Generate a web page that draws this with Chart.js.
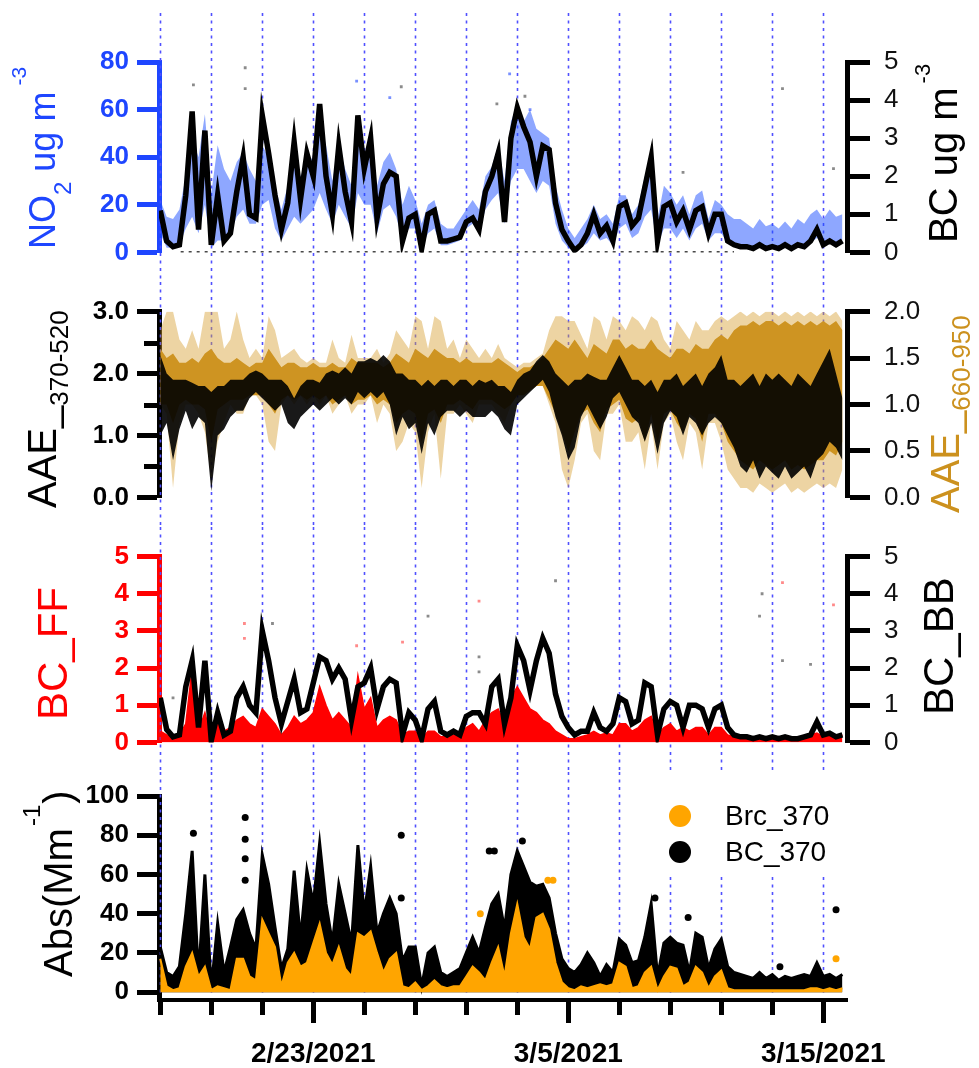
<!DOCTYPE html>
<html>
<head>
<meta charset="utf-8">
<title>NO2, BC, AAE and absorption time series</title>
<script src="https://cdn.jsdelivr.net/npm/chart.js@4.4.1/dist/chart.umd.min.js"></script>
<style>
  html, body { margin: 0; padding: 0; background: #fff; }
  #wrap { position: relative; width: 979px; height: 1068px; overflow: hidden; }
  #wrap canvas { position: absolute; left: 0; }
</style>
</head>
<body>
<div id="wrap">
  <canvas id="panelNO2" width="979" height="282" style="top:0px"></canvas>
  <canvas id="panelAAE" width="979" height="245" style="top:282px"></canvas>
  <canvas id="panelSrc" width="979" height="245" style="top:527px"></canvas>
  <canvas id="panelAbs" width="979" height="296" style="top:772px"></canvas>
</div>
<script>
// Time axis: days since 2/17/2021 00:00, one value every 6 hours
const START_DAY = 0;
const STEP_DAYS = 0.25;
const X_MIN = -0.05;
const X_MAX = 26.93;

const gridDays = [0, 2, 4, 6, 8, 10, 12, 14, 16, 18, 20, 22, 24, 26];
const dateTickDays = [6, 16, 26];
const dateTickLabels = ['2/23/2021', '3/5/2021', '3/15/2021'];

// Panel 1: BC (ug m-3, right axis) and NO2 spread (ug m-3, left axis)
const bcMass = [
  1.1, 0.3, 0.15, 0.2,   1.5, 3.7, 0.6, 3.2,   0.2, 1.5, 0.3, 0.5,   1.6, 2.5, 1.0, 0.9,
  3.6, 2.6, 1.5, 0.6,    1.3, 2.9, 1.4, 2.6,   2.0, 3.9, 2.0, 1.0,   2.8, 1.6, 0.8, 3.6,
  2.2, 3.0, 0.9, 1.8,    2.1, 2.0, 0.3, 0.9,   1.0, 0.1, 1.0, 1.1,   0.3, 0.3, 0.35, 0.4,
  0.8, 0.9, 0.6, 1.6,    2.0, 2.6, 0.8, 3.0,   3.8, 3.3, 2.9, 2.0,   2.8, 2.7, 1.3, 0.6,
  0.3, 0.05, 0.2, 0.5,   1.0, 0.5, 0.7, 0.3,   1.2, 1.3, 0.7, 0.9,   1.7, 2.5, 0.3, 1.2,
  1.3, 0.8, 1.1, 0.6,    1.1, 1.2, 0.5, 1.0,   1.0, 0.3, 0.2, 0.15,  0.15, 0.1, 0.2, 0.1,
  0.15, 0.1, 0.2, 0.1,   0.2, 0.15, 0.3, 0.6,  0.2, 0.3, 0.2, 0.3
];
const no2Lo = [
  8, 2, 2, 3,      10, 15, 8, 20,   2, 5, 5, 8,      15, 18, 12, 12,
  20, 22, 10, 5,   10, 15, 12, 15,  18, 25, 18, 12,  20, 15, 10, 25,
  20, 20, 8, 18,   20, 15, 5, 10,   10, 2, 8, 10,    3, 3, 4, 5,
  10, 12, 8, 18,   22, 25, 12, 30,  35, 35, 30, 25,  30, 28, 12, 5,
  2, 0, 2, 4,      8, 5, 6, 3,      10, 12, 6, 8,    15, 18, 3, 10,
  10, 6, 10, 5,    10, 12, 5, 8,    8, 4, 3, 2,      2, 2, 3, 2,
  3, 2, 3, 2,      3, 3, 4, 6,      4, 5, 4, 5
];
const no2Hi = [
  22, 15, 14, 18,  32, 48, 40, 58,  25, 45, 35, 30,  38, 42, 35, 30,
  45, 40, 28, 18,  28, 40, 32, 38,  40, 55, 45, 30,  45, 35, 28, 55,
  40, 45, 28, 38,  42, 35, 20, 28,  22, 12, 20, 22,  12, 10, 10, 14,
  18, 22, 18, 32,  36, 45, 30, 55,  62, 55, 60, 52,  50, 48, 28, 18,
  10, 6, 10, 14,   20, 14, 16, 12,  24, 24, 16, 20,  32, 40, 14, 28,
  25, 20, 24, 16,  24, 26, 14, 22,  20, 16, 14, 14,  12, 10, 14, 11,
  12, 10, 13, 10,  14, 12, 16, 18,  14, 18, 15, 16
];
const zeroRunDays = [0.8, 22.5];
const zeroRunVals = [0, 0];
const bcOutDays = [1.3, 3.33, 3.33, 9.45, 13.2, 14.3, 20.5, 24.4, 26.4];
const bcOutVals = [4.4, 4.85, 4.3, 4.35, 3.9, 4.1, 2.1, 4.3, 2.2];
const no2OutDays = [7.7, 9.0, 13.7, 14.5];
const no2OutVals = [72, 65, 75, 60];

// Panel 2: AAE 370-520 spread (left axis) and AAE 660-950 spread (right axis)
const aaeUVLo = [
  1.0, 1.2, 0.6, 1.1,  1.4, 1.1, 1.3, 1.2,  0.1, 1.0, 1.1, 1.3,  1.4, 1.4, 1.6, 1.7,
  1.6, 1.5, 1.4, 1.5,  1.2, 1.1, 1.3, 1.4,  1.5, 1.4, 1.5, 1.6,  1.5, 1.6, 1.5, 1.7,
  1.6, 1.7, 1.6, 1.7,  1.5, 1.0, 1.3, 1.1,  1.2, 0.7, 1.2, 1.0,  1.3, 1.4, 1.4, 1.3,
  1.4, 1.3, 1.3, 1.3,  1.4, 1.3, 1.1, 1.0,  1.5, 1.6, 1.7, 1.8,  1.9, 1.7, 1.3, 1.0,
  0.6, 0.8, 1.3, 1.5,  1.3, 1.1, 1.3, 1.6,  1.7, 1.5, 1.3, 1.2,  0.9, 1.2, 0.7, 1.2,
  1.4, 1.3, 1.0, 1.3,  1.2, 1.0, 1.2, 1.3,  1.2, 1.0, 0.8, 0.5,  0.4, 0.6, 0.3, 0.5,
  0.4, 0.3, 0.5, 0.3,  0.4, 0.5, 0.3, 0.6,  0.7, 0.9, 0.8, 0.6
];
const aaeUVHi = [
  2.3, 2.0, 1.9, 1.9,   1.9, 1.85, 1.8, 1.8,  1.7, 1.8, 1.8, 1.9,   1.9, 1.9, 2.0, 2.05,
  2.0, 1.9, 1.9, 1.9,   1.8, 1.6, 1.8, 1.9,   1.9, 1.85, 2.0, 2.05, 2.0, 2.1, 2.0, 2.2,
  2.2, 2.25, 2.2, 2.3,  2.2, 2.0, 2.0, 1.9,   1.9, 1.8, 1.9, 1.8,   1.9, 1.9, 1.8, 1.9,
  1.9, 1.8, 1.9, 1.85,  1.9, 1.8, 1.8, 1.7,   1.9, 2.0, 2.05, 2.2,  2.3, 2.2, 2.0, 1.9,
  1.8, 1.9, 1.9, 2.0,   1.95, 1.9, 1.9, 2.1,  2.3, 2.1, 1.9, 1.9,   1.8, 1.9, 1.7, 1.9,
  1.9, 2.0, 1.8, 1.9,   2.0, 1.8, 2.0, 2.1,   2.3, 1.9, 1.9, 1.8,   1.9, 2.0, 1.8, 2.0,
  1.9, 2.0, 1.9, 1.8,   2.0, 1.9, 1.8, 2.0,   2.2, 2.4, 2.0, 1.6
];
// sparse gold points (full spread) and the dense gold core
const aaeIRLo = [
  1.0, 0.9, 0.1, 0.8,   1.0, 1.0, 0.9, 0.7,   0.2, 0.6, 0.8, 1.0,   0.9, 0.9, 1.1, 1.1,
  1.0, 0.6, 0.5, 1.0,   1.1, 1.0, 1.1, 1.0,   1.1, 1.0, 1.1, 0.9,   1.0, 1.1, 0.9, 1.0,
  1.0, 1.1, 0.8, 1.0,   0.9, 0.5, 0.6, 0.8,   0.7, 0.1, 0.7, 0.9,   0.2, 0.9, 0.9, 1.0,
  0.9, 0.8, 1.0, 1.0,   1.0, 0.9, 0.8, 1.0,   1.1, 1.1, 1.2, 1.2,   1.2, 1.0, 0.8, 0.3,
  0.1, 0.4, 0.8, 0.9,   0.5, 0.4, 0.9, 0.9,   1.0, 0.6, 0.6, 0.7,   0.3, 0.8, 0.3, 0.8,
  0.9, 0.6, 0.4, 0.8,   0.7, 0.3, 0.8, 0.8,   0.6, 0.3, 0.2, 0.1,   0.1, 0.05, 0.15, 0.1,
  0.05, 0.1, 0.15, 0.05, 0.1, 0.05, 0.1, 0.15, 0.1, 0.15, 0.1, 0.3
];
const aaeIRHi = [
  1.8, 2.0, 2.0, 1.7,    1.6, 1.8, 1.6, 2.0,    2.0, 2.0, 1.6, 1.7,   2.0, 1.7, 1.5, 1.6,
  1.5, 1.95, 1.8, 1.5,   1.55, 1.6, 1.5, 1.45,  1.5, 1.45, 1.45, 1.7, 1.5, 1.45, 1.75, 1.5,
  1.5, 1.5, 1.6, 1.45,   1.55, 1.8, 1.7, 1.6,   1.95, 1.9, 1.6, 1.95, 1.9, 1.6, 1.7, 1.5,
  1.7, 1.6, 1.5, 1.6,    1.5, 1.65, 1.5, 1.45,  1.4, 1.45, 1.45, 1.5, 1.55, 1.8, 1.95, 1.95,
  1.9, 1.9, 1.75, 1.6,   1.95, 1.9, 1.7, 1.95,  1.9, 1.8, 1.95, 1.9,  1.8, 1.95, 1.9, 1.7,
  1.6, 1.9, 1.8, 1.7,    1.9, 1.8, 1.8, 1.9,    1.95, 1.9, 1.95, 2.0, 1.95, 2.0, 1.95, 2.0,
  2.0, 1.95, 2.0, 1.95,  2.0, 1.95, 2.0, 1.95,  2.0, 1.95, 2.0, 1.9
];
const aaeIRCoreLo = [
  1.0, 1.0, 0.8, 1.0,    1.05, 1.0, 1.0, 0.95,  0.6, 0.95, 1.0, 1.05,  1.05, 1.05, 1.1, 1.1,
  1.1, 1.0, 0.9, 1.05,   1.1, 1.05, 1.1, 1.05,  1.1, 1.05, 1.1, 1.0,   1.05, 1.1, 1.0, 1.05,
  1.05, 1.1, 1.0, 1.05,  1.0, 0.8, 0.9, 0.95,   0.9, 0.6, 0.9, 0.95,   0.8, 1.0, 1.0, 1.05,
  1.0, 0.95, 1.05, 1.05, 1.05, 1.0, 0.95, 1.0,  1.1, 1.1, 1.15, 1.2,   1.2, 1.05, 0.9, 0.7,
  0.5, 0.7, 0.9, 0.95,   0.8, 0.7, 0.95, 1.0,   1.05, 0.85, 0.8, 0.85, 0.6, 0.9, 0.6, 0.9,
  0.95, 0.8, 0.7, 0.9,   0.85, 0.6, 0.9, 0.9,   0.8, 0.6, 0.5, 0.4,    0.35, 0.3, 0.4, 0.35,
  0.3, 0.35, 0.4, 0.3,   0.35, 0.3, 0.35, 0.4,  0.4, 0.5, 0.45, 0.6
];
const aaeIRCoreHi = [
  1.6, 1.5, 1.55, 1.45,  1.45, 1.5, 1.45, 1.55, 1.6, 1.5, 1.45, 1.45,  1.5, 1.45, 1.4, 1.45,
  1.45, 1.6, 1.5, 1.4,   1.45, 1.45, 1.4, 1.4,  1.45, 1.4, 1.4, 1.45,  1.4, 1.4, 1.5, 1.45,
  1.45, 1.45, 1.45, 1.4, 1.45, 1.55, 1.5, 1.45, 1.6, 1.55, 1.5, 1.6,   1.55, 1.5, 1.5, 1.45,
  1.5, 1.45, 1.45, 1.45, 1.45, 1.5, 1.45, 1.4,  1.35, 1.4, 1.4, 1.45,  1.5, 1.6, 1.7, 1.65,
  1.6, 1.7, 1.6, 1.5,    1.65, 1.6, 1.55, 1.7,  1.7, 1.6, 1.65, 1.6,   1.6, 1.7, 1.6, 1.55,
  1.5, 1.6, 1.6, 1.55,   1.65, 1.6, 1.6, 1.7,   1.75, 1.7, 1.8, 1.85,  1.85, 1.9, 1.85, 1.9,
  1.9, 1.85, 1.9, 1.85,  1.9, 1.85, 1.9, 1.85,  1.9, 1.85, 1.9, 1.8
];

// Panel 3: BC_FF (left axis) and BC_BB (right axis)
const bcFF = [
  0.3, 0.2, 0.15, 0.2,   0.5, 2.0, 0.3, 0.8,   0.1, 0.9, 0.3, 0.4,    0.6, 0.7, 0.5, 0.4,
  0.9, 0.7, 0.5, 0.2,    0.4, 0.7, 0.5, 0.6,   0.8, 1.5, 1.0, 0.6,    0.8, 0.6, 0.4, 1.8,
  0.9, 1.2, 0.4, 0.6,    0.7, 0.6, 0.2, 0.3,   0.3, 0.1, 0.3, 0.3,    0.15, 0.15, 0.2, 0.2,
  0.4, 0.5, 0.3, 0.6,    0.8, 0.9, 0.5, 1.2,   1.5, 1.2, 0.9, 0.8,    0.6, 0.5, 0.3, 0.2,
  0.1, 0.1, 0.15, 0.2,   0.3, 0.2, 0.25, 0.2,  0.5, 0.5, 0.3, 0.4,    0.6, 0.7, 0.2, 0.4,
  0.5, 0.3, 0.4, 0.3,    0.4, 0.4, 0.2, 0.4,   0.4, 0.2, 0.15, 0.15,  0.12, 0.1, 0.15, 0.1,
  0.15, 0.1, 0.12, 0.1,  0.12, 0.15, 0.2, 0.25, 0.15, 0.2, 0.15, 0.2
];
const bcBB = [
  1.2, 0.35, 0.15, 0.2,  1.5, 2.2, 0.4, 2.2,   0.05, 0.8, 0.2, 0.3,  1.2, 1.5, 1.0, 0.8,
  3.0, 2.2, 1.2, 0.5,    1.1, 1.7, 0.8, 0.9,   1.6, 2.3, 2.2, 1.7,   2.0, 1.7, 0.6, 1.5,
  1.6, 2.0, 0.9, 1.5,    1.7, 1.6, 0.2, 0.8,   0.6, 0.1, 0.9, 1.1,   0.3, 0.2, 0.3, 0.2,
  0.7, 0.8, 0.8, 0.5,    1.5, 1.7, 0.5, 1.2,   2.6, 2.2, 1.4, 2.2,   2.8, 2.4, 1.3, 0.7,
  0.4, 0.2, 0.3, 0.3,    0.8, 0.4, 0.3, 0.5,   1.2, 1.1, 0.5, 0.6,   1.6, 1.5, 0.2, 0.9,
  1.1, 1.0, 0.4, 1.0,    1.0, 0.9, 0.4, 0.9,   1.0, 0.4, 0.2, 0.15,  0.15, 0.1, 0.15, 0.1,
  0.15, 0.1, 0.15, 0.1,  0.1, 0.15, 0.2, 0.55, 0.2, 0.25, 0.15, 0.2
];
const bbOutDays = [0.5, 4.4, 10.5, 12.5, 12.5, 15.5, 23.5, 23.6, 24.4, 25.5];
const bbOutVals = [1.2, 3.2, 3.4, 2.3, 1.9, 4.35, 3.4, 4.0, 2.2, 2.1];
const ffOutDays = [3.3, 3.3, 7.7, 9.5, 12.5, 24.4, 26.4];
const ffOutVals = [3.2, 2.8, 2.6, 2.7, 3.8, 4.3, 3.7];

// Panel 4: absorption at 370 nm (Mm-1)
const legendLabels = ['Brc_370', 'BC_370'];
const bc370 = [
  23, 10, 8, 13,   40, 72, 8, 60,   2, 35, 10, 23,   37, 42, 30, 22,
  70, 55, 33, 12,  22, 62, 27, 62,  45, 76, 45, 25,  55, 40, 25, 75,
  40, 64, 30, 40,  48, 40, 16, 23,  23, 3, 20, 23,   10, 8, 10, 12,
  20, 28, 20, 33,  45, 50, 32, 60,  72, 64, 56, 54,  55, 48, 30, 17,
  12, 10, 14, 20,  15, 8, 14, 10,   27, 24, 15, 16,  28, 45, 8, 25,
  28, 25, 24, 10,  30, 28, 12, 22,  27, 13, 10, 9,   8, 7, 10, 7,
  9, 6, 8, 7,      8, 9, 8, 15,     8, 9, 7, 9
];
const brc370 = [
  17, 3, 1, 2,     13, 20, 8, 13,   1, 3, 2, 1,      17, 17, 8, 6,
  37, 30, 23, 3,   15, 20, 13, 15,  25, 35, 20, 14,  23, 12, 8, 30,
  28, 31, 20, 10,  17, 20, 3, 2,    5, 1, 3, 6,      3, 2, 3, 3,
  8, 13, 10, 6,    15, 23, 8, 30,   45, 28, 22, 38,  40, 32, 15, 5,
  2, 1, 3, 2,      3, 4, 3, 4,      15, 13, 2, 3,    10, 13, 1, 8,
  13, 12, 3, 5,    13, 10, 2, 8,    11, 2, 1, 1,     1, 1, 1, 1,
  1, 1, 1, 1,      1, 1, 2, 2,      1, 2, 1, 2
];
const bc370OutDays = [1.3, 3.33, 3.33, 3.33, 3.33, 9.45, 9.45, 12.9, 13.1, 14.2, 19.4, 20.7, 24.3, 26.5];
const bc370OutVals = [81, 89, 78, 68, 57, 80, 48, 72, 72, 77, 48, 38, 13, 42];
const brcOutDays = [12.55, 15.2, 15.4, 26.5];
const brcOutVals = [40, 57, 57, 17];
const absTicks = [0, 20, 40, 60, 80, 100];

const BLUE = 'rgb(30,70,255)';
const RED = 'rgb(255,0,0)';
const GOLD = 'rgb(204,145,30)';
const ORANGE = 'rgb(255,165,0)';
const FONT = '"Liberation Sans", Arial, Helvetica, sans-serif';
const AXIS_LEFT_W = 159;
const AXIS_RIGHT_W = 132;

Chart.defaults.font.family = FONT;
Chart.defaults.color = '#000';

function series(vals) {
  return vals.map((v, i) => ({ x: START_DAY + i * STEP_DAYS, y: v }));
}
function points(days, vals) {
  return days.map((d, i) => ({ x: d, y: vals[i] }));
}

// rotated axis title with sub/superscript pieces
function drawTitle(ctx, t) {
  ctx.save();
  ctx.translate(t.x, t.y);
  ctx.rotate(-Math.PI / 2);
  ctx.fillStyle = t.color;
  ctx.textAlign = 'left';
  ctx.textBaseline = 'alphabetic';
  let cx = 0;
  t.parts.forEach(p => {
    ctx.font = p.size + 'px ' + FONT;
    cx += p.dx || 0;
    ctx.fillText(p.text, cx, p.dy || 0);
    cx += ctx.measureText(p.text).width;
  });
  ctx.restore();
}

const panelDecor = {
  id: 'panelDecor',
  beforeDatasetsDraw(chart, args, o) {
    const ctx = chart.ctx;
    const xs = chart.scales.x;
    const area = chart.chartArea;
    const yEnd = o.gridToAxis ? area.bottom - 7 : chart.height;
    ctx.save();
    ctx.strokeStyle = 'rgb(80,80,255)';
    ctx.lineWidth = 1.6;
    ctx.setLineDash([3, 4.5]);
    gridDays.forEach(d => {
      const px = Math.round(xs.getPixelForValue(d)) + 0.5;
      ctx.beginPath();
      ctx.moveTo(px, o.gridTop);
      ctx.lineTo(px, yEnd);
      ctx.stroke();
    });
    ctx.restore();
    if (o.legend) {
      ctx.save();
      ctx.fillStyle = '#fff';
      ctx.fillRect(o.legend.boxLeft, 0, area.right - o.legend.boxLeft + 3, o.legend.boxBottom);
      ctx.restore();
    }
  },
  afterDraw(chart, args, o) {
    const ctx = chart.ctx;
    const area = chart.chartArea;
    (o.minorTicks || []).forEach(m => {
      const s = chart.scales[m.axis];
      ctx.save();
      ctx.strokeStyle = m.color;
      ctx.lineWidth = 5;
      m.values.forEach(v => {
        const py = Math.round(s.getPixelForValue(v)) + 0.5;
        ctx.beginPath();
        ctx.moveTo(area.left - m.length, py);
        ctx.lineTo(area.left, py);
        ctx.stroke();
      });
      ctx.restore();
    });
    if (o.majorX) {
      const xs = chart.scales.x;
      ctx.save();
      ctx.strokeStyle = '#000';
      ctx.lineWidth = 5;
      dateTickDays.forEach(d => {
        const px = Math.round(xs.getPixelForValue(d)) + 0.5;
        ctx.beginPath();
        ctx.moveTo(px, area.bottom + 12);
        ctx.lineTo(px, area.bottom + o.majorX);
        ctx.stroke();
      });
      ctx.restore();
    }
    if (o.legend) {
      const L = o.legend;
      ctx.save();
      legendLabels.forEach((lab, i) => {
        const cy = L.top + i * L.rowGap;
        ctx.beginPath();
        ctx.fillStyle = L.colors[i];
        ctx.arc(L.markerX, cy, L.radius, 0, Math.PI * 2);
        ctx.fill();
        ctx.fillStyle = '#000';
        ctx.font = L.fontSize + 'px ' + FONT;
        ctx.textAlign = 'left';
        ctx.textBaseline = 'middle';
        ctx.fillText(lab, L.textX, cy + 1);
      });
      ctx.restore();
    }
    (o.titles || []).forEach(t => drawTitle(ctx, t));
  }
};

function hiddenX() {
  return { type: 'linear', min: X_MIN, max: X_MAX, display: false };
}

function yAxis(side, min, max, step, color, labelColor, fmt) {
  const left = side === 'left';
  return {
    type: 'linear',
    position: side,
    min: min,
    max: max,
    ticks: {
      stepSize: step,
      color: labelColor,
      padding: left ? 8 : 14,
      font: { size: left ? 26 : 26, weight: left ? 'bold' : 'normal' },
      callback: fmt || (v => String(v))
    },
    grid: { drawOnChartArea: false, drawTicks: true, tickLength: left ? 22 : 23, tickWidth: 5, tickColor: color },
    border: { display: true, width: 5, color: color },
    afterFit: s => { s.width = left ? AXIS_LEFT_W : AXIS_RIGHT_W; }
  };
}

function baseOptions(padding, scales, decor) {
  return {
    responsive: false,
    animation: false,
    devicePixelRatio: 1,
    events: [],
    layout: { padding: padding },
    elements: { line: { tension: 0 }, point: { radius: 0 } },
    plugins: { legend: { display: false }, tooltip: { enabled: false }, panelDecor: decor },
    scales: scales
  };
}

const fixed1 = v => Number(v).toFixed(1);

// Panel 1
new Chart(document.getElementById('panelNO2'), {
  type: 'line',
  data: {
    datasets: [
      { label: 'BC spikes', data: points(bcOutDays, bcOutVals), yAxisID: 'yR', showLine: false,
        pointRadius: 2, pointStyle: 'rect', pointBackgroundColor: 'rgba(90,90,90,0.7)', pointBorderWidth: 0, order: 0 },
      { label: 'NO2 spikes', data: points(no2OutDays, no2OutVals), yAxisID: 'yL', showLine: false,
        pointRadius: 2, pointStyle: 'rect', pointBackgroundColor: 'rgba(30,70,255,0.6)', pointBorderWidth: 0, order: 0 },
      { label: 'BC', data: series(bcMass), yAxisID: 'yR', borderColor: '#000', borderWidth: 5.5, fill: false, order: 1 },
      { label: 'BC zero', data: points(zeroRunDays, zeroRunVals), yAxisID: 'yR', borderColor: 'rgba(40,40,40,0.85)',
        borderWidth: 3, borderDash: [3, 5], fill: false, order: 2 },
      { label: 'NO2 low', data: series(no2Lo), yAxisID: 'yL', borderWidth: 0, borderColor: 'transparent', fill: false, order: 3 },
      { label: 'NO2', data: series(no2Hi), yAxisID: 'yL', borderWidth: 0, borderColor: 'transparent',
        fill: '-1', backgroundColor: 'rgba(30,80,255,0.5)', order: 3 }
    ]
  },
  options: baseOptions({ top: 62, bottom: 25, left: 0, right: 0 }, {
    x: hiddenX(),
    yL: yAxis('left', 0, 80, 20, BLUE, BLUE),
    yR: yAxis('right', 0, 5, 1, '#000', '#111')
  }, {
    gridTop: 13,
    titles: [
      { x: 55, y: 249, color: BLUE, parts: [
        { text: 'NO', size: 36 }, { text: '2', size: 24, dy: 16 }, { text: ' ug m', size: 36 },
        { text: '-3', size: 21, dy: -29, dx: 6 } ] },
      { x: 957, y: 243, color: '#000', parts: [
        { text: 'BC ug m', size: 40 }, { text: '-3', size: 22, dy: -27, dx: 4 } ] }
    ]
  }),
  plugins: [panelDecor]
});

// Panel 2
new Chart(document.getElementById('panelAAE'), {
  type: 'line',
  data: {
    datasets: [
      { label: 'AAE 660-950 low', data: series(aaeIRLo), yAxisID: 'yR', borderWidth: 0, borderColor: 'transparent', fill: false, order: 5 },
      { label: 'AAE 660-950 spread', data: series(aaeIRHi), yAxisID: 'yR', borderWidth: 0, borderColor: 'transparent',
        fill: '-1', backgroundColor: 'rgba(214,160,50,0.45)', order: 5 },
      { label: 'AAE 660-950 core low', data: series(aaeIRCoreLo), yAxisID: 'yR', borderWidth: 0, borderColor: 'transparent', fill: false, order: 4 },
      { label: 'AAE 660-950', data: series(aaeIRCoreHi), yAxisID: 'yR', borderWidth: 0, borderColor: 'transparent',
        fill: '-1', backgroundColor: 'rgb(206,148,34)', order: 4 },
      { label: 'AAE 370-520 low', data: series(aaeUVLo), yAxisID: 'yL', borderWidth: 0, borderColor: 'transparent', fill: false, order: 2 },
      { label: 'AAE 370-520', data: series(aaeUVHi), yAxisID: 'yL', borderWidth: 0, borderColor: 'transparent',
        fill: '-1', backgroundColor: 'rgba(0,0,0,0.9)', order: 2 }
    ]
  },
  options: baseOptions({ top: 25, bottom: 25, left: 0, right: 0 }, {
    x: hiddenX(),
    yL: yAxis('left', 0, 3, 1, '#000', '#000', fixed1),
    yR: yAxis('right', 0, 2, 0.5, '#000', '#111', fixed1)
  }, {
    gridTop: 0,
    minorTicks: [{ axis: 'yL', values: [0.5, 1.5, 2.5], length: 15, color: '#000' }],
    titles: [
      { x: 56, y: 226, color: '#000', parts: [
        { text: 'AAE_', size: 40 }, { text: '370-520', size: 26, dy: 12 } ] },
      { x: 959, y: 231, color: GOLD, parts: [
        { text: 'AAE_', size: 40 }, { text: '660-950', size: 26, dy: 11 } ] }
    ]
  }),
  plugins: [panelDecor]
});

// Panel 3
new Chart(document.getElementById('panelSrc'), {
  type: 'line',
  data: {
    datasets: [
      { label: 'BC_BB spikes', data: points(bbOutDays, bbOutVals), yAxisID: 'yR', showLine: false,
        pointRadius: 2, pointStyle: 'rect', pointBackgroundColor: 'rgba(90,90,90,0.7)', pointBorderWidth: 0, order: 0 },
      { label: 'BC_FF spikes', data: points(ffOutDays, ffOutVals), yAxisID: 'yL', showLine: false,
        pointRadius: 2, pointStyle: 'rect', pointBackgroundColor: 'rgba(255,60,60,0.6)', pointBorderWidth: 0, order: 0 },
      { label: 'BC_BB', data: series(bcBB), yAxisID: 'yR', borderColor: '#000', borderWidth: 5.5, fill: false, order: 1 },
      { label: 'BC_FF', data: series(bcFF), yAxisID: 'yL', borderColor: RED, borderWidth: 1.5,
        fill: 'origin', backgroundColor: RED, order: 3 }
    ]
  },
  options: baseOptions({ top: 24, bottom: 24, left: 0, right: 0 }, {
    x: hiddenX(),
    yL: yAxis('left', 0, 5, 1, RED, RED),
    yR: yAxis('right', 0, 5, 1, '#000', '#111')
  }, {
    gridTop: 0,
    titles: [
      { x: 67, y: 193, color: RED, parts: [{ text: 'BC_FF', size: 42 }] },
      { x: 953, y: 188, color: '#000', parts: [{ text: 'BC_BB', size: 42 }] }
    ]
  }),
  plugins: [panelDecor]
});

// Panel 4
new Chart(document.getElementById('panelAbs'), {
  type: 'line',
  data: {
    datasets: [
      { label: 'BC_370 spikes', data: points(bc370OutDays, bc370OutVals), yAxisID: 'yL', showLine: false,
        pointRadius: 3.5, pointBackgroundColor: '#000', pointBorderWidth: 0, order: 0 },
      { label: 'Brc_370 spikes', data: points(brcOutDays, brcOutVals), yAxisID: 'yL', showLine: false,
        pointRadius: 3.5, pointBackgroundColor: ORANGE, pointBorderWidth: 0, order: 0 },
      { label: legendLabels[0], data: series(brc370), yAxisID: 'yL', borderColor: ORANGE, borderWidth: 2,
        fill: 'origin', backgroundColor: ORANGE, order: 2 },
      { label: legendLabels[1], data: series(bc370), yAxisID: 'yL', borderColor: '#000', borderWidth: 3,
        fill: 'origin', backgroundColor: '#000', order: 3 }
    ]
  },
  options: baseOptions({ top: 24, bottom: 0, left: 0, right: AXIS_RIGHT_W }, {
    x: {
      type: 'linear',
      position: 'bottom',
      min: X_MIN,
      max: X_MAX,
      afterBuildTicks: s => { s.ticks = gridDays.map(v => ({ value: v })); },
      ticks: {
        autoSkip: false,
        maxRotation: 0,
        padding: 22,
        color: '#000',
        font: { size: 28, weight: 'bold' },
        callback: v => {
          const k = dateTickDays.indexOf(v);
          return k >= 0 ? dateTickLabels[k] : '';
        }
      },
      grid: { drawOnChartArea: false, drawTicks: true, tickLength: 15, tickWidth: 5, tickColor: '#000' },
      border: { display: true, width: 4, color: '#000' },
      afterFit: s => { s.height = 68; }
    },
    yL: Object.assign(yAxis('left', -4, 100, 20, '#000', '#000'), {
      afterBuildTicks: s => { s.ticks = absTicks.map(v => ({ value: v })); }
    })
  }, {
    gridTop: 0,
    gridToAxis: true,
    majorX: 23,
    legend: { boxLeft: 652, boxBottom: 103, markerX: 680, radius: 11, top: 44, rowGap: 36,
              textX: 725, fontSize: 28, colors: [ORANGE, '#000'] },
    titles: [
      { x: 72, y: 205, color: '#000', parts: [
        { text: 'Abs(Mm', size: 40 }, { text: '-1', size: 24, dy: -32, dx: 2 }, { text: ')', size: 40, dx: 1 } ] }
    ]
  }),
  plugins: [panelDecor]
});
</script>
</body>
</html>
